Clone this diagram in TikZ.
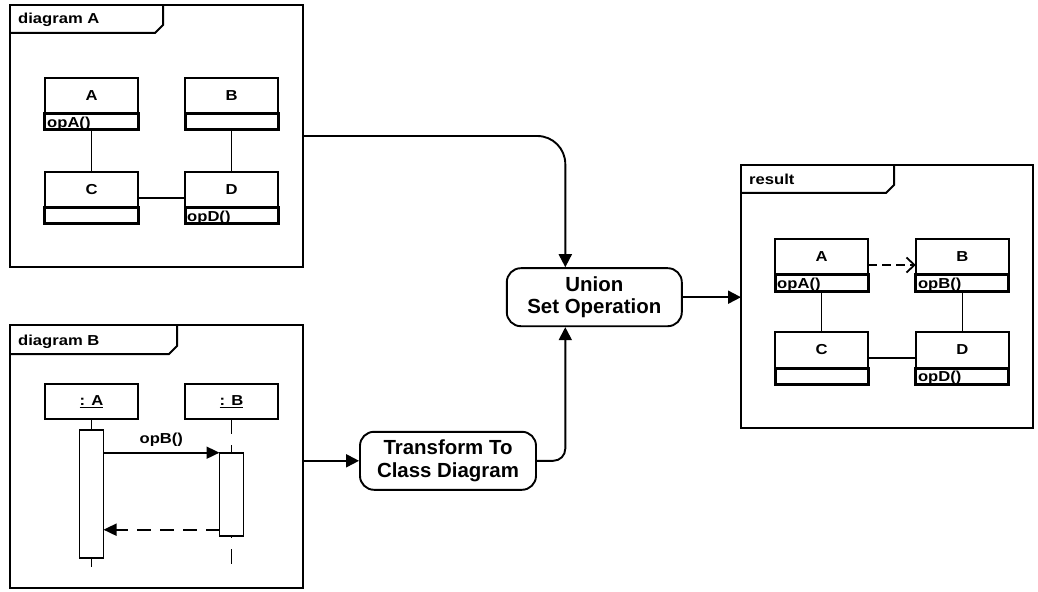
\documentclass[tikz,border=0pt]{standalone}
\usepackage{fontspec}
\setmainfont{Liberation Sans}
\newfontfamily\umlfont{Liberation Sans}[FakeStretch=1.15]
\usetikzlibrary{arrows.meta}

\newcommand\umlsmall{\umlfont\bfseries\fontsize{14.5}{17}\selectfont}
\newcommand\umlbig{\bfseries\fontsize{20.5}{22.5}\selectfont}

% class box: id, centre x, top y, class name, operation
\newcommand\umlclass[5]{%
  \node[namebox] (#1) at (#2,#3+18) {#4};
  \node[opsbox] (#1o) at (#2,#3+44) {};
  \node[opstext] (#1t) at ([xshift=2bp,yshift=-13.5bp]#1o.north west) {#5};
}

\begin{document}
\begin{tikzpicture}[x=1bp,y=-1bp,
  frame/.style={draw, line width=2bp, inner sep=0, outer sep=0},
  tab/.style={line width=2bp, line join=miter},
  frametitle/.style={font=\umlsmall, inner sep=0, anchor=base west},
  namebox/.style={draw, fill=white, line width=2bp, minimum width=93bp,
    minimum height=36bp, inner sep=0, outer sep=0, font=\umlsmall},
  opsbox/.style={draw, line width=3bp, minimum width=93bp,
    minimum height=16bp, inner sep=0, outer sep=0},
  opstext/.style={font=\umlsmall, inner sep=0, anchor=base west},
  assoc/.style={line width=1.6bp},
  dep/.style={line width=1.8bp, dash pattern=on 9bp off 5bp,
    -{Straight Barb[length=8bp,width=15bp,line width=1.8bp]}},
  flow/.style={line width=1.9bp, -{Triangle[length=13bp,width=13bp]}},
  process/.style={draw, rounded corners=14bp, line width=1.9bp,
    minimum width=175bp, minimum height=58bp, align=center,
    font=\umlbig, inner sep=0},
  lifeline/.style={line width=1.8bp},
  activation/.style={draw, fill=white, line width=1.8bp, minimum width=24bp,
    inner sep=0, outer sep=0},
  msg/.style={line width=1.8bp, -{Triangle[length=13bp,width=12bp]}},
  reply/.style={line width=1.8bp, dash pattern=on 14bp off 9bp,
    -{Triangle[length=13bp,width=12bp]}}
]
\useasboundingbox (0,0) rectangle (1038,592);

% ---------- diagram A ----------
\node[frame, minimum width=292.7bp, minimum height=262bp] (fA) at (156.35,136) {};
\draw[tab] (10,33) -- (155,33) -- (163,25) -- (163,5);
\node[frametitle] (tA) at (18,24) {diagram A};
\umlclass{aA}{91.5}{78}{A}{opA()}
\umlclass{aB}{231.5}{78}{B}{}
\umlclass{aC}{91.5}{172}{C}{}
\umlclass{aD}{231.5}{172}{D}{opD()}
\draw[assoc] (aAo.south) -- (aC.north);
\draw[assoc] (aBo.south) -- (aD.north);
\draw[assoc] ([yshift=-8bp]aC.east) -- ([yshift=-8bp]aD.west);

% ---------- diagram B ----------
\node[frame, minimum width=292.7bp, minimum height=263bp] (fB) at (156.35,456.5) {};
\draw[tab] (10,354) -- (169,354) -- (177,346) -- (177,325);
\node[frametitle] (tB) at (18,345) {diagram B};
\node[namebox, minimum height=35bp] (hA) at (91.5,401.5) {\underline{: A}};
\node[namebox, minimum height=35bp] (hB) at (231.5,401.5) {\underline{: B}};
\coordinate (endA) at (91.5,567);
\coordinate (endB) at (231.5,567);
\draw[lifeline, dash pattern=on 15bp off 11bp] (hB.south) -- (endB);
\node[activation, minimum height=128bp] (actA) at (91.5,494) {};
\node[activation, minimum height=83bp] (actB) at (231.5,494.2) {};
\draw[lifeline] (hA.south) -- (actA.north);
\draw[lifeline] (actA.south) -- (endA);
\draw[msg] (actA.east |- actB.north) -- (actB.north west);
\node[font=\umlsmall, anchor=base, inner sep=0] (opB) at (161.3,443.3) {opB()};
\coordinate (retS) at ([yshift=6bp]actB.south west);
\draw[reply] (retS) -- (retS -| actA.east);

% ---------- operations ----------
\node[process] (U) at (594.3,297.2) {Union\\Set Operation};
\node[process, minimum width=176bp] (T) at (448,460.8) {Transform To\\Class Diagram};

% ---------- result ----------
\node[frame, minimum width=291.7bp, minimum height=263bp] (fR) at (886.85,296.5) {};
\draw[tab] (741,193) -- (886,193) -- (894,185) -- (894,165);
\node[frametitle] (tR) at (749,185) {result};
\umlclass{rA}{821.5}{239}{A}{opA()}
\umlclass{rB}{962.3}{239}{B}{opB()}
\umlclass{rC}{821.5}{332}{C}{}
\umlclass{rD}{962.3}{332}{D}{opD()}
\draw[assoc] (rAo.south) -- (rC.north);
\draw[assoc] (rBo.south) -- (rD.north);
\draw[assoc] ([yshift=-8bp]rC.east) -- ([yshift=-8bp]rD.west);
\draw[dep] ([yshift=-8bp]rA.east) -- ([yshift=-8bp]rB.west);

% ---------- flow between diagrams ----------
\draw[flow, rounded corners=28bp] (fA.east) -| ([xshift=-29bp]U.north);
\draw[flow] (fB.east |- T.west) -- (T.west);
\draw[flow, rounded corners=12bp] (T.east) -| ([xshift=-29bp]U.south);
\draw[flow] (U.east) -- (U.east -| fR.west);
\end{tikzpicture}
\end{document}
